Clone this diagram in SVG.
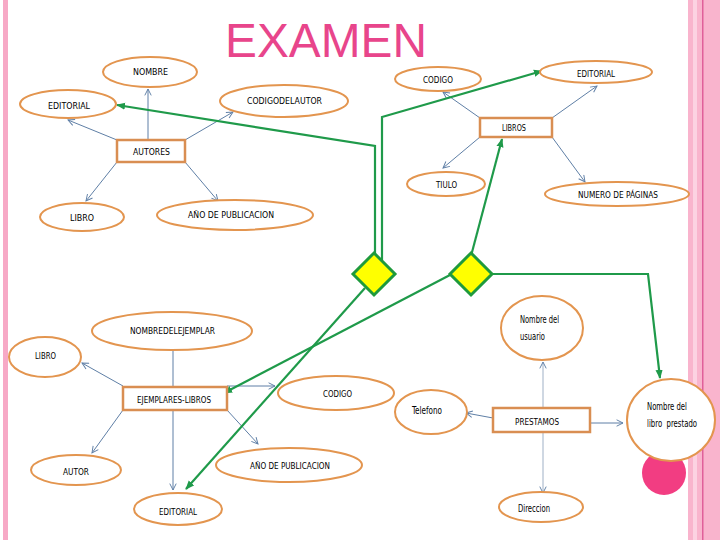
<svg xmlns="http://www.w3.org/2000/svg" width="720" height="540" viewBox="0 0 720 540">
<style>
.el{fill:#fff;stroke:#e3954f;stroke-width:2}
.bx{fill:#fff;stroke:#d98e52;stroke-width:2.5}
.t{font-family:"Liberation Sans Narrow","DejaVu Sans Condensed","Liberation Sans",sans-serif;font-size:9px;fill:#000}
.tm{font-family:"Liberation Sans Narrow","DejaVu Sans Condensed","Liberation Sans",sans-serif;font-size:10.5px;fill:#000}
.bl{fill:none;stroke:#5f7fa6;stroke-width:1;marker-end:url(#ab)}
.bn{fill:none;stroke:#5f7fa6;stroke-width:1}
.lg{fill:none;stroke:#9fb0c6;stroke-width:1;marker-end:url(#ab)}
.gr{fill:none;stroke:#1f9a4a;stroke-width:2.2}
.ga{marker-end:url(#ag)}
.dm{fill:#ffff00;stroke:#1e9a3c;stroke-width:3}
</style>
<defs>
<marker id="ab" viewBox="0 0 10 10" refX="9" refY="5" markerWidth="8" markerHeight="8" markerUnits="userSpaceOnUse" orient="auto"><path d="M1,1 L9,5 L1,9" fill="none" stroke="#5f7fa6" stroke-width="1.2"/></marker>
<marker id="ag" viewBox="0 0 10 10" refX="9" refY="5" markerWidth="9" markerHeight="9" markerUnits="userSpaceOnUse" orient="auto"><path d="M0,1 L10,5 L0,9 z" fill="#1f9a4a"/></marker>
</defs>
<rect width="720" height="540" fill="#fff"/>
<g id="border">
<rect x="3" y="0" width="5" height="540" fill="#f7a9c6"/>
<rect x="688" y="0" width="32" height="540" fill="#f9b4cd"/>
<rect x="693" y="0" width="4" height="540" fill="#fcd2e2"/>
<rect x="702" y="0" width="1.5" height="540" fill="#e0609a"/>
</g>
<text x="225" y="57" font-family="Liberation Sans,Arial,sans-serif" font-size="48" fill="#e8458b" textLength="202" lengthAdjust="spacingAndGlyphs">EXAMEN</text>

<g id="connectors">
<line class="bl" x1="148" y1="140" x2="148" y2="89"/>
<line class="bl" x1="117" y1="140" x2="68" y2="120"/>
<line class="bl" x1="185" y1="140" x2="233" y2="112"/>
<line class="bl" x1="117" y1="162" x2="86" y2="201"/>
<line class="bl" x1="185" y1="162" x2="218" y2="201"/>

<line class="bl" x1="480" y1="118" x2="443" y2="92"/>
<line class="bl" x1="552" y1="118" x2="597" y2="86"/>
<line class="bl" x1="480" y1="137" x2="443" y2="168"/>
<line class="bl" x1="552" y1="137" x2="585" y2="182"/>

<line class="bn" x1="173" y1="387" x2="173" y2="350"/>
<line class="bl" x1="123" y1="386" x2="82" y2="363"/>
<line class="bl" x1="227" y1="386" x2="275" y2="386"/>
<line class="bl" x1="123" y1="410" x2="92" y2="453"/>
<line class="bl" x1="173" y1="410" x2="173" y2="490"/>
<line class="bl" x1="227" y1="410" x2="258" y2="444"/>

<line class="lg" x1="543" y1="408" x2="543" y2="362"/>
<line class="lg" x1="543" y1="432" x2="543" y2="493"/>
<line class="bl" x1="493" y1="418" x2="466" y2="413"/>
<line class="bl" x1="590" y1="423" x2="623" y2="423"/>

<polyline class="gr ga" points="375,255 375,146 117,105"/>
<polyline class="gr ga" points="382,260 382,117 542,71"/>
<line class="gr ga" x1="471" y1="256" x2="502" y2="139"/>
<polyline class="gr ga" points="490,274 648,274 660,378"/>
<line class="gr ga" x1="450" y1="275" x2="224" y2="393"/>
<line class="gr ga" x1="365" y1="288" x2="186" y2="489"/>
</g>

<g id="d1"><polygon class="dm" points="374,253 395,274 374,295 353,274"/></g>
<g id="d2"><polygon class="dm" points="471,253 492,274 471,295 450,274"/></g>

<g id="nombre"><ellipse class="el" cx="150" cy="72" rx="47" ry="15"/><text class="t" x="133" y="75" textLength="35" lengthAdjust="spacingAndGlyphs">NOMBRE</text></g>
<g id="editorial1"><ellipse class="el" cx="68" cy="104" rx="48" ry="14"/><text class="t" x="48" y="109" textLength="42" lengthAdjust="spacingAndGlyphs">EDITORIAL</text></g>
<g id="codigodelautor"><ellipse class="el" cx="284" cy="101" rx="64" ry="16"/><text class="t" x="247" y="104" textLength="75" lengthAdjust="spacingAndGlyphs">CODIGODELAUTOR</text></g>
<g id="autores"><rect class="bx" x="117" y="140" width="68" height="22"/><text class="t" x="133" y="155" textLength="37" lengthAdjust="spacingAndGlyphs">AUTORES</text></g>
<g id="libro1"><ellipse class="el" cx="82" cy="217" rx="42" ry="14"/><text class="t" x="70" y="221" textLength="24" lengthAdjust="spacingAndGlyphs">LIBRO</text></g>
<g id="anio1"><ellipse class="el" cx="235" cy="215" rx="78" ry="15"/><text class="t" x="188" y="218" textLength="86" lengthAdjust="spacingAndGlyphs">AÑO DE PUBLICACION</text></g>

<g id="codigo1"><ellipse class="el" cx="438" cy="79" rx="43" ry="12"/><text class="t" x="423" y="83" textLength="30" lengthAdjust="spacingAndGlyphs">CODIGO</text></g>
<g id="editorial2"><ellipse class="el" cx="596" cy="72" rx="56" ry="11"/><text class="t" x="577" y="77" textLength="38" lengthAdjust="spacingAndGlyphs">EDITORIAL</text></g>
<g id="libros"><rect class="bx" x="480" y="118" width="72" height="19"/><text class="t" x="502" y="131" textLength="24" lengthAdjust="spacingAndGlyphs">LIBROS</text></g>
<g id="tiulo"><ellipse class="el" cx="446" cy="184" rx="39" ry="12"/><text class="t" x="436" y="188" textLength="21" lengthAdjust="spacingAndGlyphs">TIULO</text></g>
<g id="numero"><ellipse class="el" cx="617" cy="194" rx="72" ry="12"/><text class="t" x="578" y="198" textLength="80" lengthAdjust="spacingAndGlyphs">NUMERO DE PÁGINAS</text></g>

<g id="nombreejemplar"><ellipse class="el" cx="172" cy="331" rx="80" ry="19"/><text class="t" x="130" y="334" textLength="85" lengthAdjust="spacingAndGlyphs">NOMBREDELEJEMPLAR</text></g>
<g id="libro2"><ellipse class="el" cx="45" cy="357" rx="36" ry="20"/><text class="t" x="35" y="359" textLength="21" lengthAdjust="spacingAndGlyphs">LIBRO</text></g>
<g id="ejemplares"><rect class="bx" x="123" y="387" width="104" height="23"/><text class="t" x="137" y="403" textLength="74" lengthAdjust="spacingAndGlyphs">EJEMPLARES-LIBROS</text></g>
<g id="codigo2"><ellipse class="el" cx="336" cy="393" rx="58" ry="17"/><text class="t" x="323" y="397" textLength="29" lengthAdjust="spacingAndGlyphs">CODIGO</text></g>
<g id="autor"><ellipse class="el" cx="76" cy="470" rx="45" ry="15"/><text class="t" x="63" y="475" textLength="26" lengthAdjust="spacingAndGlyphs">AUTOR</text></g>
<g id="anio2"><ellipse class="el" cx="289" cy="465" rx="73" ry="17"/><text class="t" x="250" y="469" textLength="80" lengthAdjust="spacingAndGlyphs">AÑO DE PUBLICACION</text></g>
<g id="editorial3"><ellipse class="el" cx="178" cy="509" rx="44" ry="16"/><text class="t" x="159" y="515" textLength="38" lengthAdjust="spacingAndGlyphs">EDITORIAL</text></g>

<g id="usuario"><ellipse class="el" cx="542" cy="328" rx="41" ry="32"/><text class="tm" x="520" y="323" textLength="39" lengthAdjust="spacingAndGlyphs">Nombre del</text><text class="tm" x="520" y="340" textLength="25" lengthAdjust="spacingAndGlyphs">usuario</text></g>
<g id="telefono"><ellipse class="el" cx="431" cy="412" rx="36" ry="22"/><text class="tm" x="412" y="414" textLength="30" lengthAdjust="spacingAndGlyphs">Telefono</text></g>
<g id="prestamos"><rect class="bx" x="493" y="408" width="97" height="24"/><text class="t" x="515" y="425" textLength="44" lengthAdjust="spacingAndGlyphs">PRESTAMOS</text></g>
<g id="pinkdot"><circle cx="664" cy="473" r="22" fill="#f23d82"/></g>
<g id="libroprestado"><ellipse class="el" cx="671" cy="420" rx="44" ry="41"/><text class="tm" x="647" y="410" textLength="40" lengthAdjust="spacingAndGlyphs">Nombre del</text><text class="tm" x="647" y="427" textLength="50" lengthAdjust="spacingAndGlyphs" xml:space="preserve">libro  prestado</text></g>
<g id="direccion"><ellipse class="el" cx="541" cy="507" rx="42" ry="15"/><text class="tm" x="518" y="512" textLength="32" lengthAdjust="spacingAndGlyphs">Direccion</text></g>
</svg>
